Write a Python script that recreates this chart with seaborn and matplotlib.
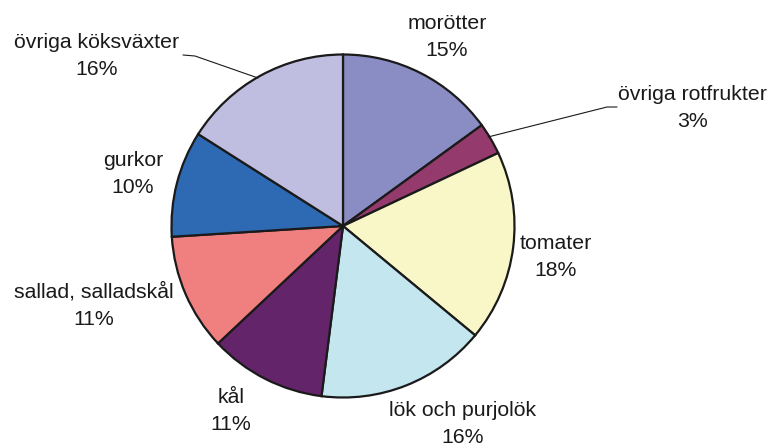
import matplotlib
matplotlib.use('Agg')
import matplotlib.pyplot as plt
import seaborn as sns

sns.set_theme(style='white')
plt.rcParams['font.family'] = ['Liberation Sans', 'DejaVu Sans']

# data, clockwise from 12 o'clock
categories = ['morötter', 'övriga rotfrukter', 'tomater', 'lök och purjolök',
              'kål', 'sallad, salladskål', 'gurkor', 'övriga köksväxter']
shares = [15, 3, 18, 16, 11, 11, 10, 16]
colors = ['#8A8DC4', '#943A6C', '#F9F7C8', '#C3E6EF',
          '#64246A', '#F07F80', '#2E6AB3', '#BFBEE0']

fig = plt.figure(figsize=(7.71, 4.46), dpi=100)
ax = fig.add_axes([0, 0, 1, 1])

ax.pie(shares, colors=colors, startangle=90, counterclock=False,
       center=(343, -226), radius=171.5,
       wedgeprops=dict(edgecolor='#1a1a1a', linewidth=1.6))

ax.set_xlim(0, 771)
ax.set_ylim(-446, 0)
ax.set_aspect('equal')
ax.axis('off')

# label placement: centre x and baseline of the name line (pixel coords)
label_pos = {
    'morötter': (447, 29),
    'övriga rotfrukter': (692, 100),
    'tomater': (556, 249),
    'lök och purjolök': (463, 416),
    'kål': (231, 403),
    'sallad, salladskål': (94, 298),
    'gurkor': (133, 166),
    'övriga köksväxter': (97, 48),
}
for cat, val in zip(categories, shares):
    x, y = label_pos[cat]
    ax.text(x, -y, cat, ha='center', va='baseline', fontsize=15.3, color='#1a1a1a')
    ax.text(x, -y - 27, f'{val}%', ha='center', va='baseline', fontsize=15.3,
            color='#1a1a1a')

# leader lines
ax.plot([488, 607, 617], [-137, -107, -107], color='#1a1a1a', lw=0.8)
ax.plot([258, 195, 183], [-78, -56, -55], color='#1a1a1a', lw=0.8)

fig.savefig('out.png', dpi=100)
